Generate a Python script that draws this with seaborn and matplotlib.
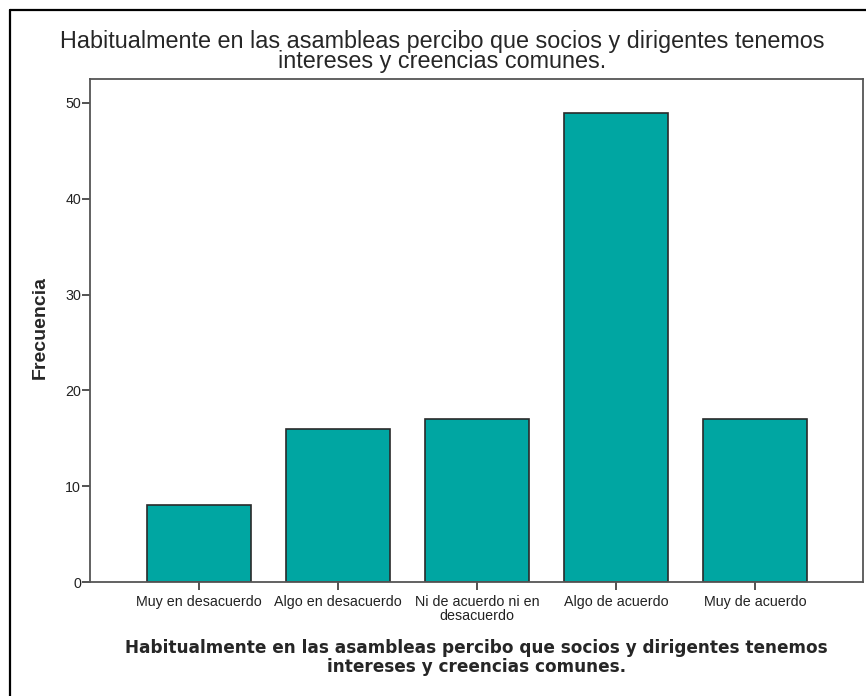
import matplotlib
matplotlib.use("Agg")
import matplotlib.pyplot as plt
import seaborn as sns
import pandas as pd
from matplotlib.lines import Line2D

# datos
categorias = ["Muy en desacuerdo", "Algo en desacuerdo", "Ni de acuerdo ni en\ndesacuerdo",
              "Algo de acuerdo", "Muy de acuerdo"]
frecuencias = [8, 16, 17, 49, 17]
ticks_y = [0, 10, 20, 30, 40, 50]

titulo = "Habitualmente en las asambleas percibo que socios y dirigentes tenemos\nintereses y creencias comunes."

df = pd.DataFrame({"categoria": categorias, "frecuencia": frecuencias})

sns.set_style("white")
plt.rcParams["font.family"] = ["Liberation Sans", "DejaVu Sans"]

fig = plt.figure(figsize=(8.66, 6.96), dpi=100)
ax = fig.add_axes([90 / 866, 1 - 582 / 696, (863 - 90) / 866, (582 - 79) / 696])

sns.barplot(data=df, x="categoria", y="frecuencia", color="#00a6a2",
            saturation=1, width=0.75, edgecolor="#2a2a2a", linewidth=1.2, ax=ax)

ax.set_xlim(-0.784, 4.777)
ax.set_ylim(0, 52.5)
ax.set_yticks(ticks_y)
ax.tick_params(axis="both", direction="out", length=6, width=1.3, color="#444444",
               labelsize=10.3, labelcolor="#222222", left=True, bottom=True)
ax.tick_params(axis="y", pad=0.5)
ax.tick_params(axis="x", pad=3.5)
for lbl in ax.get_xticklabels():
    lbl.set_linespacing(0.95)
for s in ax.spines.values():
    s.set_color("#555555")
    s.set_linewidth(1.3)

ax.set_ylabel("Frecuencia", fontsize=14, fontweight="bold")
ax.yaxis.set_label_coords(-0.054, 0.505)
ax.set_xlabel(titulo, fontsize=12.2, fontweight="bold", family="DejaVu Sans",
              linespacing=1.1)
ax.xaxis.set_label_coords(0.5, -0.113)

fig.text(442 / 866, 1 - 30 / 696, titulo, ha="center", va="top", fontsize=16.8,
         linespacing=0.81)

# marco exterior (solo izquierda y arriba visibles)
fig.add_artist(Line2D([10 / 866, 10 / 866], [0, 1 - 10 / 696], transform=fig.transFigure,
                      color="black", linewidth=1.6))
fig.add_artist(Line2D([10 / 866, 1], [1 - 10 / 696, 1 - 10 / 696], transform=fig.transFigure,
                      color="black", linewidth=1.6))

fig.savefig("out.png", dpi=100)
